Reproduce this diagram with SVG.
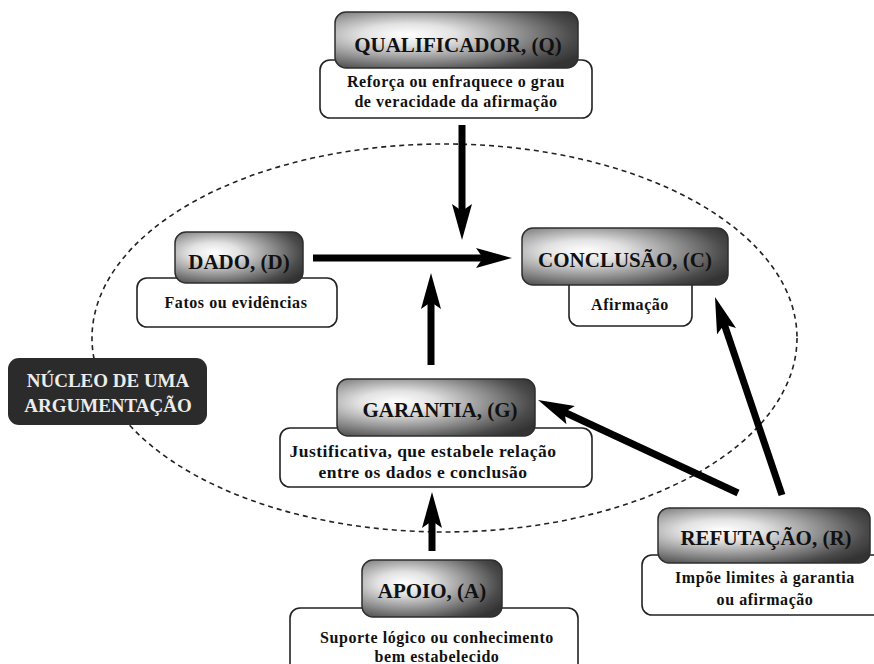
<svg xmlns="http://www.w3.org/2000/svg" width="874" height="664" viewBox="0 0 874 664">
<defs>
<radialGradient id="hg" cx="0.32" cy="0.42" r="0.78" fx="0.3" fy="0.4">
<stop offset="0" stop-color="#ffffff"/>
<stop offset="0.25" stop-color="#e2e2e2"/>
<stop offset="0.6" stop-color="#8a8a8a"/>
<stop offset="0.85" stop-color="#4a4a4a"/>
<stop offset="1" stop-color="#333333"/>
</radialGradient>
<marker id="ah" viewBox="0 0 36 20" refX="11" refY="10" markerWidth="36" markerHeight="20" markerUnits="userSpaceOnUse" orient="auto">
<path d="M0,0 L36,10 L0,20 L7,10 Z" fill="#000"/>
</marker>
</defs>
<style>
.hdr{fill:url(#hg);stroke:#2e2e2e;stroke-width:1.5}
.desc{fill:#fff;stroke:#222;stroke-width:1.6}
.ht{font-family:"Liberation Serif",serif;font-weight:bold;font-size:21px;fill:#111;text-anchor:middle}
.dt{font-family:"Liberation Serif",serif;font-weight:bold;font-size:16px;letter-spacing:0.55px;fill:#111;text-anchor:middle}
.dg{font-size:17.5px;letter-spacing:0.5px}
.nt{font-family:"Liberation Serif",serif;font-weight:bold;font-size:19px;fill:#ececec;text-anchor:middle}
.arr{stroke:#000;stroke-width:7;fill:none;marker-end:url(#ah)}
</style>
<rect width="874" height="664" fill="#fff"/>
<ellipse id="nucleo-ellipse" cx="444.5" cy="338" rx="352.5" ry="194" fill="none" stroke="#222" stroke-width="1.6" stroke-dasharray="5 4"/>
<g id="nucleo">
<rect x="8" y="358" width="199" height="67" rx="11" fill="#2b2b2b"/>
<text class="nt" x="108" y="387">NÚCLEO DE UMA</text>
<text class="nt" x="108" y="412">ARGUMENTAÇÃO</text>
</g>
<g id="qualificador">
<rect class="desc" x="320" y="60" width="272" height="58" rx="10"/>
<rect class="hdr" x="335" y="12" width="243" height="56" rx="11"/>
<text class="ht" x="458" y="52">QUALIFICADOR, (Q)</text>
<text class="dt" x="456" y="87">Reforça ou enfraquece o grau</text>
<text class="dt" x="456" y="107">de veracidade da afirmação</text>
</g>
<g id="dado">
<rect class="desc" x="137" y="278" width="200" height="49" rx="10"/>
<rect class="hdr" x="175" y="232" width="128" height="51" rx="11"/>
<text class="ht" x="239" y="269">DADO, (D)</text>
<text class="dt" x="236" y="308">Fatos ou evidências</text>
</g>
<g id="conclusao">
<rect class="desc" x="569" y="276" width="123" height="50" rx="10"/>
<rect class="hdr" x="522" y="228" width="206" height="57" rx="11"/>
<text class="ht" x="625" y="267">CONCLUSÃO, (C)</text>
<text class="dt" x="630" y="310">Afirmação</text>
</g>
<g id="garantia">
<rect class="desc" x="280" y="428" width="312" height="59" rx="10"/>
<rect class="hdr" x="337" y="379" width="198" height="57" rx="11"/>
<text class="ht" x="440" y="417">GARANTIA, (G)</text>
<text class="dt dg" x="423" y="457">Justificativa, que estabele relação</text>
<text class="dt dg" x="423" y="478">entre os dados e conclusão</text>
</g>
<g id="refutacao">
<rect class="desc" x="642" y="555" width="250" height="60" rx="10"/>
<rect class="hdr" x="658" y="508" width="212" height="55" rx="11"/>
<text class="ht" x="766" y="545">REFUTAÇÃO, (R)</text>
<text class="dt" x="765" y="583">Impõe limites à garantia</text>
<text class="dt" x="765" y="605">ou afirmação</text>
</g>
<g id="apoio">
<rect class="desc" x="290" y="608" width="288" height="66" rx="10"/>
<rect class="hdr" x="362" y="560" width="140" height="57" rx="11"/>
<text class="ht" x="432" y="598">APOIO, (A)</text>
<text class="dt" x="437" y="643">Suporte lógico ou conhecimento</text>
<text class="dt" x="437" y="662">bem estabelecido</text>
</g>
<g id="connectors">
<line class="arr" x1="462" y1="125" x2="462" y2="215"/>
<line class="arr" x1="313" y1="258" x2="487" y2="258"/>
<line class="arr" x1="431" y1="365" x2="431" y2="298"/>
<line class="arr" x1="432" y1="551" x2="432" y2="517"/>
<line class="arr" x1="738" y1="493" x2="560.7" y2="410.5"/>
<line class="arr" x1="782" y1="495" x2="723" y2="320.7"/>
</g>
</svg>
